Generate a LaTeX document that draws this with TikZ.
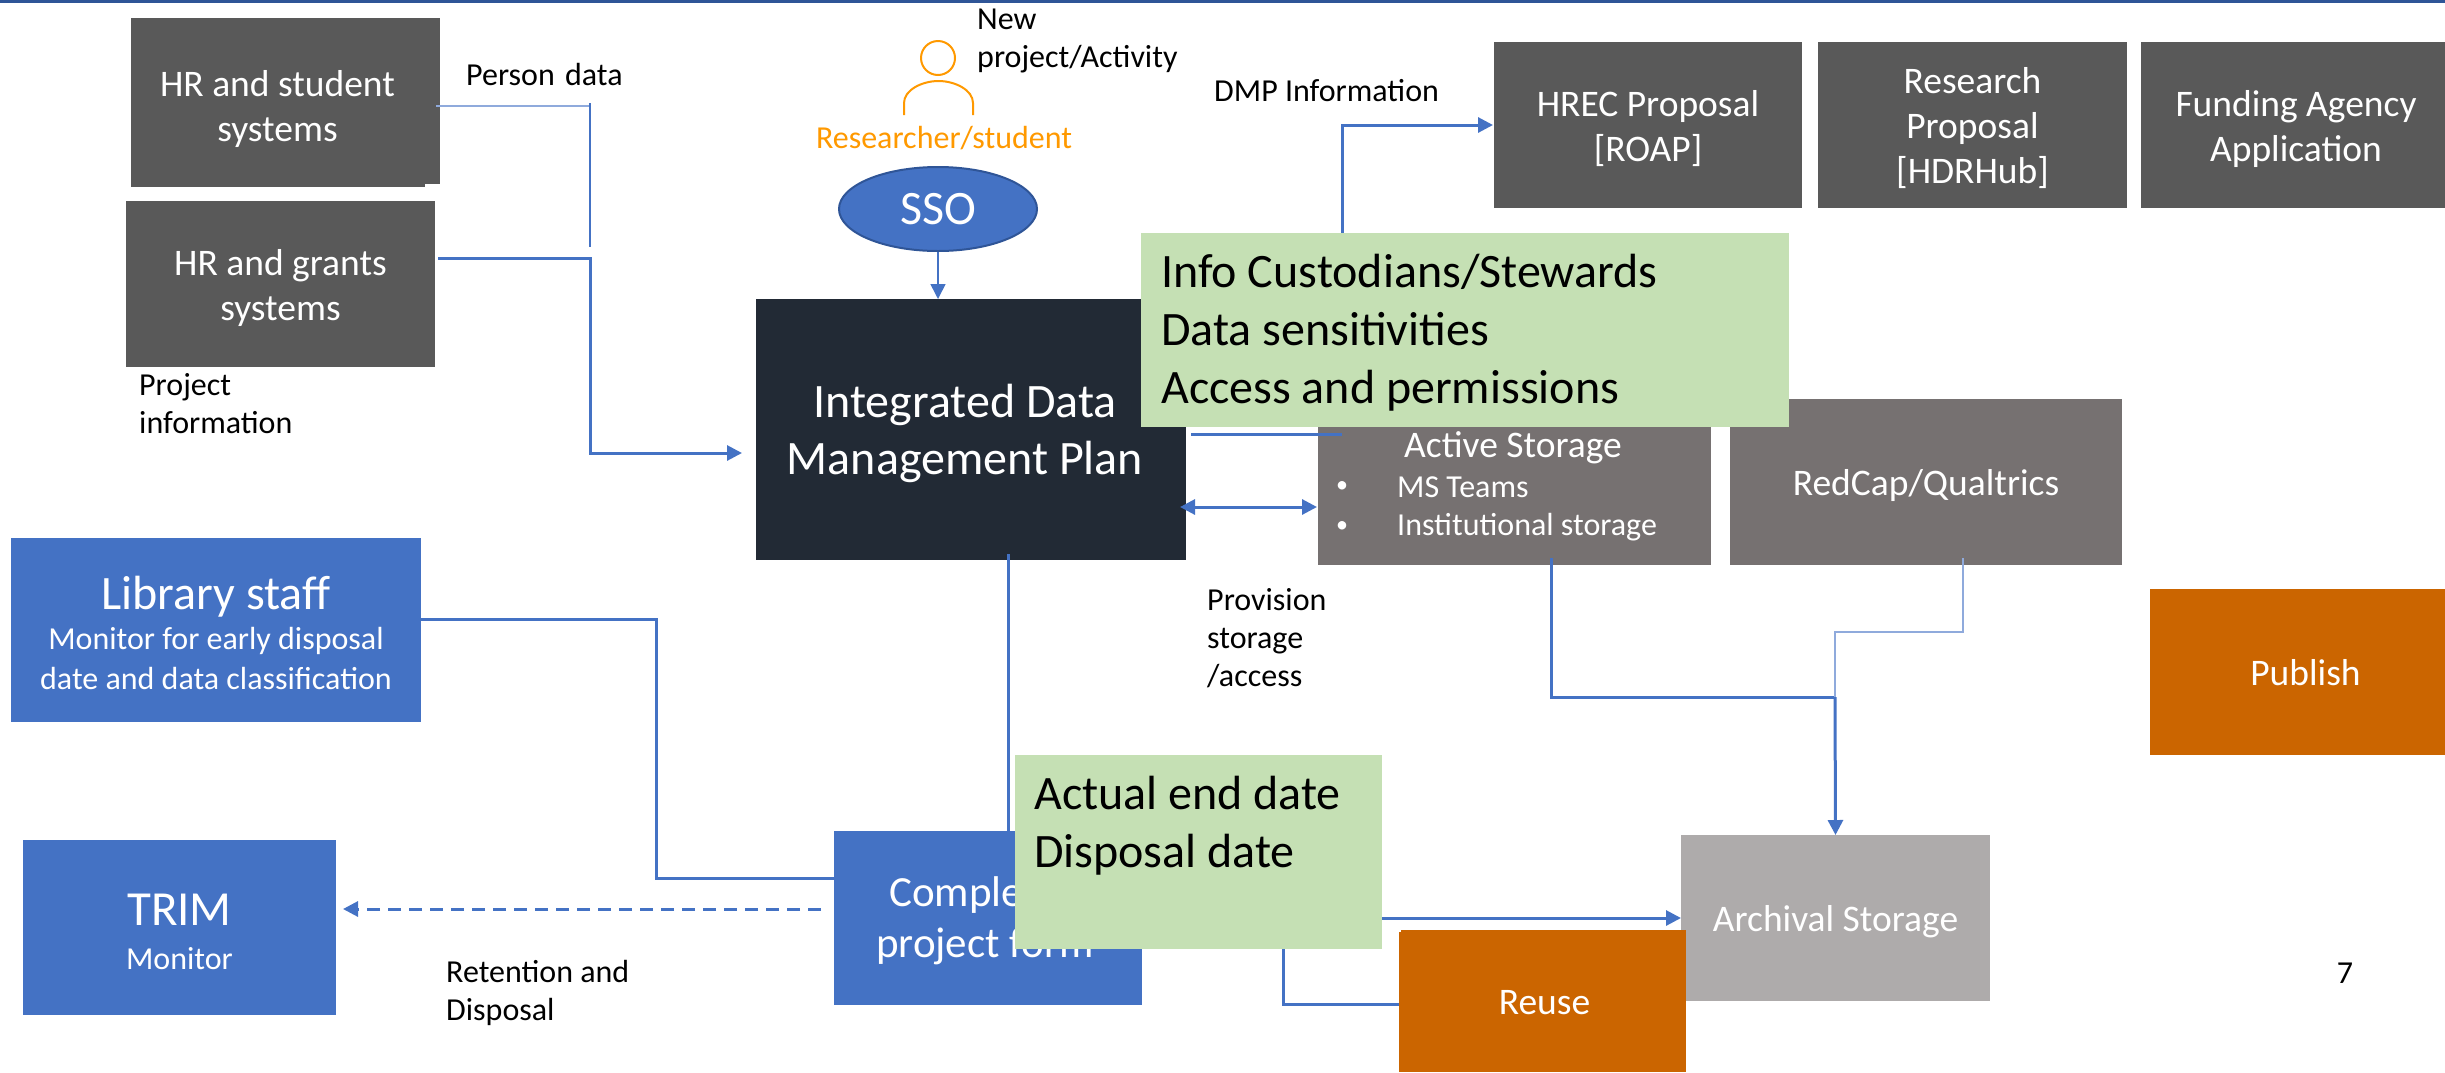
\documentclass[tikz,border=0pt]{standalone}
\usepackage{fontspec}
\setmainfont{Carlito}
\usetikzlibrary{arrows.meta,shapes.geometric,calc}
\definecolor{bluefill}{HTML}{4472C4}
\definecolor{bluedark}{HTML}{2F5597}
\definecolor{bluelight}{HTML}{8FAADC}
\definecolor{darkgray}{HTML}{595959}
\definecolor{midgray}{HTML}{767171}
\definecolor{lightgray}{HTML}{AEABAB}
\definecolor{navy}{HTML}{222A35}
\definecolor{paleGreen}{HTML}{C5E0B4}
\definecolor{rust}{HTML}{CB6500}
\definecolor{amber}{HTML}{FF9900}
\newcommand{\fs}[1]{\fontsize{#1}{#1}\selectfont}
\newcommand{\fsl}[2]{\fontsize{#1}{#2}\selectfont}
% box text offset from the node centre: dx, dy (downward), lines
\newcommand{\offtext}[3]{\makebox[0pt][c]{\kern\dimexpr#1pt*2\relax\raisebox{\dimexpr-#2pt\relax}[0pt][0pt]{\begin{tabular}[c]{@{}c@{}}#3\end{tabular}}}}
\tikzset{
  boxbase/.style={anchor=north west,inner sep=0pt,outer sep=0pt,text=white},
  sysbox/.style={boxbase,fill=darkgray,font=\fsl{37.5}{45}},
  storebox/.style={boxbase,fill=midgray},
  bluebox/.style={boxbase,fill=bluefill},
  rustbox/.style={boxbase,fill=rust,font=\fs{37.5}},
  greenbox/.style={anchor=north west,inner sep=0pt,fill=paleGreen},
  greentext/.style={anchor=west,inner sep=0pt,text=black,align=left,font=\fsl{48}{58}},
  lab/.style={anchor=west,inner sep=0pt,align=left,font=\fsl{32}{38},text=black},
  conn/.style={draw=bluefill,line width=3pt},
  connthin/.style={draw=bluefill,line width=1.6pt},
  connpale/.style={draw=bluelight,line width=2.2pt},
  tip/.style={-{Triangle[length=15pt,width=15pt]}},
  tipback/.style={{Triangle[length=15pt,width=15pt]}-{Triangle[length=15pt,width=15pt]}},
}
\begin{document}
\begin{tikzpicture}[x=1pt,y=-1pt]
\useasboundingbox (0,0) rectangle (2445,1072);
% top rule
\fill[bluedark] (0,0) rectangle (2445,3);
% left systems
\fill[darkgray] (131,184) rectangle (425,187);
\node[sysbox,minimum width=309pt,minimum height=166pt] (student) at (131,18) {\offtext{-8}{15.5}{HR and student\\systems}};
\node[sysbox,minimum width=309pt,minimum height=166pt] (grants) at (126,201) {\offtext{0}{11}{HR and grants\\systems}};
% top right boxes
\node[sysbox,minimum width=308pt,minimum height=166pt] (hrec) at (1494,42) {\offtext{0}{11}{HREC Proposal\\{[ROAP]}}};
\node[sysbox,minimum width=309pt,minimum height=166pt] (research) at (1818,42) {\offtext{0}{11}{Research\\Proposal\\{[HDRHub]}}};
\node[sysbox,minimum width=304pt,minimum height=166pt] (funding) at (2141,42) {\offtext{3}{11}{Funding Agency\\Application}};
% main
\node[boxbase,fill=navy,minimum width=430pt,minimum height=261pt,font=\fsl{48}{57}] (idmp) at (756,299) {\offtext{-6}{11.5}{Integrated Data\\Management Plan}};
% person
\node[draw=amber,line width=2pt,circle,minimum size=34pt,inner sep=0pt] (head) at (938,58) {};
\draw[amber,line width=2pt] (904,115) -- (904,103) .. controls (904,90) and (922,81) .. (938.5,81) .. controls (955,81) and (973,90) .. (973,103) -- (973,115);
\node[anchor=center,inner sep=0pt,font=\fs{32},text=amber] (researcher) at (944,138) {Researcher/student};
\node[ellipse,draw=bluedark,line width=2pt,fill=bluefill,minimum width=198pt,minimum height=84pt,inner sep=0pt,text=white,font=\fs{48}] (sso) at (938,209) {SSO};
% storage
\node[storebox,minimum width=393pt,minimum height=166pt] (active) at (1318,399) {};
\node[anchor=center,inner sep=0pt,text=white,font=\fs{37.5}] (activetitle) at (1513,448) {Active Storage};
\node[anchor=center,inner sep=0pt,text=white,font=\fs{24}] (bulleta) at (1342,487) {•};
\node[anchor=west,inner sep=0pt,text=white,font=\fs{32}] (teams) at (1397,487) {MS Teams};
\node[anchor=center,inner sep=0pt,text=white,font=\fs{24}] (bulletb) at (1342,527) {•};
\node[anchor=west,inner sep=0pt,text=white,font=\fs{32}] (inst) at (1397,527) {Institutional storage};
\node[storebox,minimum width=392pt,minimum height=166pt,font=\fs{37.5}] (redcap) at (1730,399) {\offtext{0}{12}{RedCap/Qualtrics}};
\node[storebox,fill=lightgray,minimum width=309pt,minimum height=166pt,font=\fs{37.5}] (archival) at (1681,835) {\offtext{0}{12}{Archival Storage}};
\node[rustbox,minimum width=295pt,minimum height=166pt] (publish) at (2150,589) {\offtext{8}{12}{Publish}};
% blue boxes
\node[bluebox,minimum width=410pt,minimum height=184pt,font=\fsl{32}{40}] (library) at (11,538) {\offtext{0}{15.5}{{\fsl{48}{55}Library staff}\\Monitor for early disposal\\date and data classification}};
\node[bluebox,minimum width=313pt,minimum height=175pt,font=\fsl{32}{44}] (trim) at (23,840) {\offtext{0}{17}{{\fsl{49}{50}TRIM}\\Monitor}};
\node[bluebox,minimum width=308pt,minimum height=174pt,font=\fsl{43}{51}] (complete) at (834,831) {\offtext{-3}{10}{Completed\\project form}};
% reuse
\fill[rust] (1401,930) rectangle (1686,932);
\node[rustbox,minimum width=287pt,minimum height=140pt] (reuse) at (1399,932) {\offtext{2}{11.5}{Reuse}};
% coordinates
\coordinate (studentout) at (436,106);
\coordinate (studentcorner) at (590,106);
\coordinate (studenttop) at (590,103);
\coordinate (studentend) at (590,247);
\coordinate (grantsout) at (438,258);
\coordinate (idmpin) at (742,453);
\coordinate (idmpout) at (1191,434);
\coordinate (hrecin) at (1493,125);
\coordinate (idmpdown) at (1008,554);
\coordinate (activedown) at (1551,558);
\coordinate (redcapdown) at (1963,558);
\coordinate (merge) at (1835,697);
\coordinate (trimtip) at (343,909);
\coordinate (dashstart) at (821,909);
% connectors
\draw[connpale] (studentout) -- (studentcorner);
\draw[connthin] (studenttop) -- (studentend);
\draw[conn,tip] (grantsout) -- (590,258) -- (590,453) -- (idmpin);
\draw[connthin,tip] (sso.south) -- (938,299);
\draw[conn] (idmpout) -- (1342,434);
\draw[conn,tip] (1342,233) -- (1342,125) -- (hrecin);
\draw[conn,tipback] (1180,507) -- (1317,507);
\draw[conn] (idmpdown) -- (1008,831);
\draw[conn] (library.east |- 0,619) -- (656,619) -- (656,878) -- (complete.west |- 0,878);
\draw[conn,dashed,dash pattern=on 13pt off 8pt,tip] (dashstart) -- (trimtip);
\draw[conn,tip] (complete.east |- archival.west) -- (archival.west);
\draw[conn] (1283,918) -- (1283,1004) -- (reuse.west |- 0,1004);
\draw[conn] (activedown) -- (1551,697) -- (merge);
\draw[connpale] (redcapdown) -- (1963,632) -- (1835,632) -- (merge);
\draw[conn,tip] (merge) -- (archival.north);
% overlays
\node[greenbox,minimum width=648pt,minimum height=194pt] (green1) at (1141,233) {};
\node[greentext] (green1text) at (1161,333) {Info Custodians/Stewards\\Data sensitivities\\Access and permissions};
\node[greenbox,minimum width=367pt,minimum height=194pt] (green2) at (1015,755) {};
\node[greentext] (green2text) at (1034,826) {Actual end date\\Disposal date};
% labels
\node[lab] (persondata) at (466,75) {Person\hspace{3pt} data};
\node[lab] (projinfo) at (139,404) {Project\\information};
\node[lab] (newproj) at (977,41) {New\\project/Activity};
\node[lab] (dmpinfo) at (1214,91) {DMP Information};
\node[lab] (provision) at (1207,638) {Provision\\storage\\/access};
\node[lab] (retention) at (446,993) {Retention and\\Disposal};
\node[lab,anchor=center] (pagenum) at (2345,973) {7};
\end{tikzpicture}
\end{document}
